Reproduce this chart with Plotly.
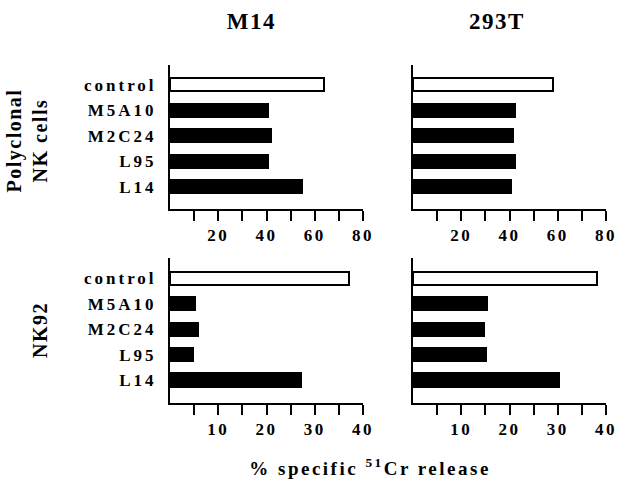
import plotly.graph_objects as go

categories = ["control", "M5A10", "M2C24", "L95", "L14"]
poly_m14 = [64.0, 40.7, 41.8, 40.5, 54.6]
poly_293t = [58.1, 42.2, 41.5, 42.2, 40.7]
nk92_m14 = [37.1, 5.2, 5.7, 4.85, 27.2]
nk92_293t = [38.1, 15.4, 14.8, 15.2, 30.2]

col_titles = ["M14", "293T"]
row_titles = ["Polyclonal<br>NK cells", "NK92"]
x_title = "% specific <sup>51</sup>Cr release"

top_ticks = [10, 20, 30, 40, 50, 60, 70, 80]
top_labels = ["", "20", "", "40", "", "60", "", "80"]
bot_ticks = [5, 10, 15, 20, 25, 30, 35, 40]
bot_labels = ["", "10", "", "20", "", "30", "", "40"]

FONT = "Liberation Serif"
W, H = 618, 479
bar_colors = ["white"] + ["black"] * 4

fig = go.Figure()
panels = [
    (poly_m14, "x", "y"),
    (poly_293t, "x2", "y2"),
    (nk92_m14, "x3", "y3"),
    (nk92_293t, "x4", "y4"),
]
for vals, xa, ya in panels:
    fig.add_trace(go.Bar(
        x=vals, y=categories, orientation="h", xaxis=xa, yaxis=ya,
        width=0.52, marker=dict(color=bar_colors, line=dict(color="black", width=2)),
        showlegend=False, hoverinfo="skip"))

xl = [170 / W, 363 / W]
xr = [413 / W, 606 / W]
yt = [1 - 209 / H, 1 - 65 / H]
yb = [1 - 402.7 / H, 1 - 258 / H]

tickfont = dict(family=FONT, size=17, color="black", weight="bold")

def xaxis(dom, anchor, rng, tv, tt):
    return dict(domain=dom, anchor=anchor, range=rng, tickvals=tv, ticktext=tt,
                showline=True, linewidth=2, linecolor="black", ticks="outside",
                ticklen=10, tickwidth=2, tickcolor="black", showgrid=False,
                zeroline=False, tickfont=tickfont, fixedrange=True, automargin=False)

def yaxis(dom, anchor, rng, labels):
    return dict(domain=dom, anchor=anchor, range=rng, type="category",
                showline=True, linewidth=2, linecolor="black", ticks="",
                showgrid=False, zeroline=False, showticklabels=labels,
                tickfont=tickfont, ticklabelstandoff=8, fixedrange=True, automargin=False)

fig.update_layout(
    width=W, height=H, margin=dict(l=0, r=0, t=0, b=0, pad=0), autosize=False,
    paper_bgcolor="white", plot_bgcolor="white", bargap=0,
    xaxis=xaxis(xl, "y", [0, 80], top_ticks, top_labels),
    xaxis2=xaxis(xr, "y2", [0, 80], top_ticks, top_labels),
    xaxis3=xaxis(xl, "y3", [0, 40], bot_ticks, bot_labels),
    xaxis4=xaxis(xr, "y4", [0, 40], bot_ticks, bot_labels),
    yaxis=yaxis(yt, "x", [4.87, -0.77], True),
    yaxis2=yaxis(yt, "x2", [4.87, -0.77], False),
    yaxis3=yaxis(yb, "x3", [4.89, -0.8], True),
    yaxis4=yaxis(yb, "x4", [4.89, -0.8], False),
)

ann_font = dict(family=FONT, size=23, color="black", weight="bold")
for t, xc in zip(col_titles, [251, 496.5]):
    fig.add_annotation(text=t, x=xc / W, y=1 - 22 / H, xref="paper", yref="paper",
                       showarrow=False, font=ann_font, xanchor="center", yanchor="middle")
for t, yc in zip(row_titles, [141, 330]):
    fig.add_annotation(text=t, x=(27 if "<br>" in t else 40) / W, y=1 - yc / H,
                       xref="paper", yref="paper", showarrow=False, textangle=-90,
                       font=dict(family=FONT, size=20, color="black", weight="bold"),
                       xanchor="center", yanchor="middle")
fig.add_annotation(text=x_title, x=370 / W, y=1 - 467 / H, xref="paper", yref="paper",
                   showarrow=False, font=dict(family=FONT, size=19, color="black", weight="bold"),
                   xanchor="center", yanchor="middle")

post = """
var s=document.createElement('style');
s.textContent='html,body{margin:0;overflow:hidden;} .xaxislayer-above text {letter-spacing:2.5px;} .yaxislayer-above text {letter-spacing:3px;} .annotation-text{letter-spacing:1.5px;} g.annotation[data-index="4"] text{letter-spacing:2.5px;}';
document.head.appendChild(s);
"""
fig.write_html("out.html", post_script=post, config={"displayModeBar": False})
